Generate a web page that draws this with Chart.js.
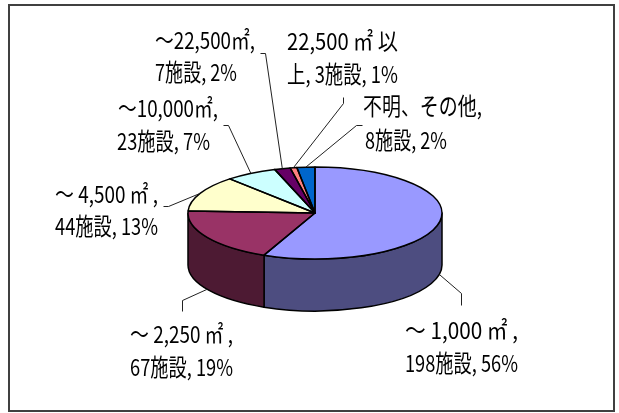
<!DOCTYPE html>
<html>
<head>
<meta charset="utf-8">
<script src="https://cdn.jsdelivr.net/npm/chart.js@4"></script>
<style>
    html, body { margin: 0; padding: 0; background: #fff; }
    #wrap { width: 619px; height: 413px; }
</style>
</head>
<body>
<div id="wrap"><canvas id="pieChart" width="619" height="413"></canvas></div>
<script>
// データ
const categories = ['～1,000㎡', '～2,250㎡', '～4,500㎡', '～10,000㎡', '～22,500㎡', '22,500㎡以上', '不明、その他'];
const facilityCounts = [198, 67, 44, 23, 7, 3, 8];
const dataLabels = [
    ['～ 1,000 ㎡ ,', '198施設, 56%'],
    ['～ 2,250 ㎡ ,', '67施設, 19%'],
    ['～ 4,500 ㎡ ,', '44施設, 13%'],
    ['～10,000㎡,', '23施設, 7%'],
    ['～22,500㎡,', '7施設, 2%'],
    ['22,500 ㎡ 以', '上, 3施設, 1%'],
    ['不明、その他,', '8施設, 2%']
];

// 色
const topColors = ['#9999FF', '#993366', '#FFFFCC', '#CCFFFF', '#660066', '#FF8080', '#0066CC'];
const sideColors = ['#4D4D80', '#4D1A33', '#80806A', '#6A8080', '#330033', '#804040', '#003366'];

// ラベル配置 [x, y, 幅] (行ごと)
const labelPos = [
    [[405, 330, 113], [405, 363, 113]],
    [[130, 334, 103], [130, 367, 103]],
    [[55, 194, 103], [55, 226, 103]],
    [[118, 108, 100], [117, 141, 93]],
    [[155, 40, 100], [155, 72, 82]],
    [[287, 41, 111], [287, 74, 111]],
    [[363, 106, 119], [365, 140, 82]]
];
// 引出線の折れ点
const leaderPts = [
    [[461, 293], [461, 305]],
    [[182, 300], [182, 311]],
    [[168, 206], [163, 206]],
    [[228, 125], [223, 125]],
    [[265, 53], [260, 53]],
    [[343, 103], [343, 97]],
    [[356, 125], [362, 125]]
];

const K = 46 / 127;   // 縦のつぶし率
const DEPTH = 52;     // 厚み

function fitText(ctx, txt, x, y, w) {
    const nat = ctx.measureText(txt).width;
    ctx.save();
    ctx.translate(x, y);
    ctx.scale(w / nat, 1.12);
    ctx.fillText(txt, 0, 0);
    ctx.restore();
}

const pie3d = {
    id: 'pie3d',
    beforeDraw(chart) {
        const ctx = chart.ctx;
        ctx.save();
        ctx.fillStyle = '#fff';
        ctx.fillRect(0, 0, chart.width, chart.height);
        ctx.strokeStyle = '#404040';
        ctx.lineWidth = 2;
        ctx.strokeRect(9, 5, 605, 406);
        ctx.restore();
    },
    beforeDatasetsDraw(chart) {
        const ctx = chart.ctx;
        const arcs = chart.getDatasetMeta(0).data;
        const cx = arcs[0].x, cy = arcs[0].y, r = arcs[0].outerRadius;
        const ry = r * K;
        // 側面
        ctx.save();
        ctx.lineWidth = 1.5;
        ctx.strokeStyle = '#000';
        ctx.lineJoin = 'round';
        arcs.forEach((arc, i) => {
            const s = Math.max(arc.startAngle, 0);
            const e = Math.min(arc.endAngle, Math.PI);
            if (s >= e) return;
            ctx.beginPath();
            ctx.ellipse(cx, cy, r, ry, 0, s, e);
            ctx.ellipse(cx, cy + DEPTH, r, ry, 0, e, s, true);
            ctx.closePath();
            ctx.fillStyle = sideColors[i];
            ctx.fill();
            ctx.stroke();
        });
        ctx.restore();
        // 上面はつぶして描く
        ctx.save();
        ctx.translate(cx, cy);
        ctx.scale(1, K);
        ctx.translate(-cx, -cy);
    },
    afterDatasetsDraw(chart) {
        const ctx = chart.ctx;
        ctx.restore();
        const arcs = chart.getDatasetMeta(0).data;
        const cx = arcs[0].x, cy = arcs[0].y, r = arcs[0].outerRadius;
        const ry = r * K;
        ctx.save();
        ctx.lineWidth = 1.5;
        ctx.strokeStyle = '#000';
        ctx.lineJoin = 'round';
        arcs.forEach(arc => {
            ctx.beginPath();
            ctx.moveTo(cx, cy);
            ctx.ellipse(cx, cy, r, ry, 0, arc.startAngle, arc.endAngle);
            ctx.closePath();
            ctx.stroke();
        });
        // 引出線
        ctx.lineWidth = 1;
        ctx.strokeStyle = '#222';
        arcs.forEach((arc, i) => {
            const mid = (arc.startAngle + arc.endAngle) / 2;
            let px = cx + r * Math.cos(mid);
            let py = cy + ry * Math.sin(mid);
            if (Math.sin(mid) > 0) py += DEPTH;
            ctx.beginPath();
            ctx.moveTo(px, py);
            leaderPts[i].forEach(p => ctx.lineTo(p[0] + 0.5, p[1] + 0.5));
            ctx.stroke();
        });
        // ラベル
        ctx.fillStyle = '#000';
        ctx.font = "21px 'Noto Sans CJK JP'";
        ctx.textBaseline = 'middle';
        ctx.textAlign = 'left';
        dataLabels.forEach((lines, i) => {
            lines.forEach((txt, j) => {
                const p = labelPos[i][j];
                fitText(ctx, txt, p[0], p[1], p[2]);
            });
        });
        ctx.restore();
    }
};

new Chart(document.getElementById('pieChart'), {
    type: 'pie',
    data: {
        labels: categories,
        datasets: [{
            data: facilityCounts,
            backgroundColor: topColors,
            borderWidth: 0,
            hoverOffset: 0
        }]
    },
    options: {
        responsive: false,
        animation: false,
        layout: { padding: { left: 188, right: 177, top: 86, bottom: 73 } },
        plugins: {
            legend: { display: false },
            tooltip: { enabled: false }
        }
    },
    plugins: [pie3d]
});
</script>
</body>
</html>
